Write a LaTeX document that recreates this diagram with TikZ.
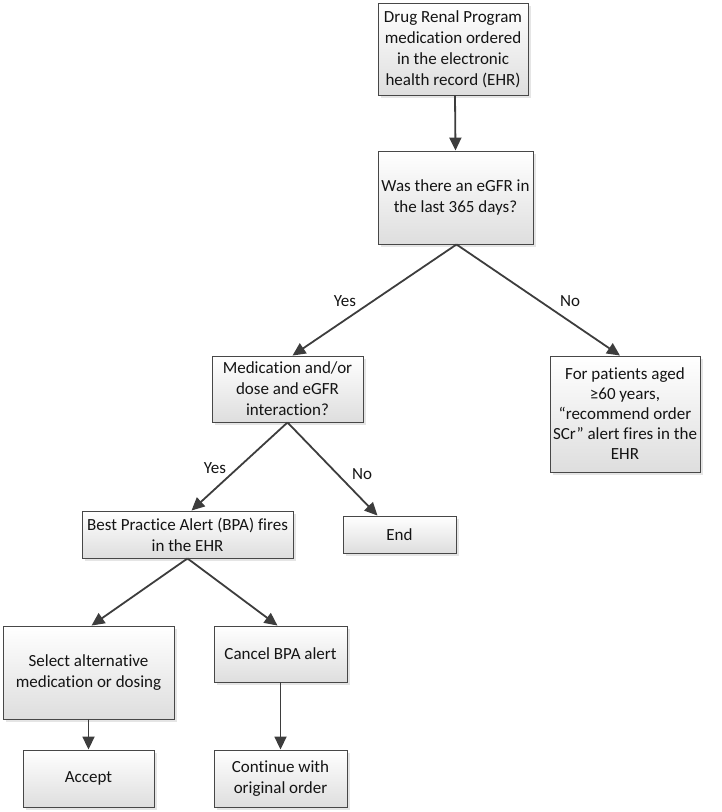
\documentclass[tikz,border=0pt]{standalone}
\usepackage{fontspec}
\setmainfont[Ligatures=NoCommon]{Carlito}
\usetikzlibrary{arrows.meta,shadows}
\begin{document}
\begin{tikzpicture}[x=1pt,y=-1pt,
  box/.style={draw=black!72, line width=0.9pt, top color=white, bottom color=black!13,
    drop shadow={shadow xshift=2.5pt, shadow yshift=-2.5pt, fill=black!20},
    align=center, inner sep=2pt, font=\fontsize{17}{21}\selectfont, text=black!92},
  arr/.style={draw=black!76, line width=1.8pt, -{Triangle[length=13pt,width=12pt]}},
  lbl/.style={font=\fontsize{17}{20}\selectfont, text=black!92}]
\useasboundingbox (0,0) rectangle (722,812);
\node[box, minimum width=150pt, minimum height=92pt] (b1) at (453,49) {Drug Renal Program\\medication ordered\\in the electronic\\health record (EHR)};
\node[box, minimum width=155pt, minimum height=93pt] (b2) at (455.5,197.5) {Was there an eGFR in\\the last 365 days?};
\node[box, minimum width=151pt, minimum height=66pt] (b3) at (287.5,389) {Medication and/or\\dose and eGFR\\interaction?};
\node[box, minimum width=150pt, minimum height=116pt, font=\fontsize{17}{20}\selectfont] (b4) at (625,414) {For patients aged\\≥60 years,\\“recommend order\\SCr” alert fires in the\\EHR};
\node[box, minimum width=211pt, minimum height=47pt] (b5) at (187.5,534.5) {Best Practice Alert (BPA) fires\\in the EHR};
\node[box, minimum width=113pt, minimum height=37pt] (bend) at (399.5,534.5) {End};
\node[box, minimum width=171pt, minimum height=93pt] (bsel) at (88.5,672.5) {Select alternative\\medication or dosing};
\node[box, minimum width=133pt, minimum height=56pt] (bcan) at (280.5,654) {Cancel BPA alert};
\node[box, minimum width=131pt, minimum height=57pt] (bacc) at (88.5,778.5) {Accept};
\node[box, minimum width=133pt, minimum height=57pt] (bcon) at (280.5,778.5) {Continue with\\original order};
\draw[arr] ([xshift=2pt]b1.south) -- (b2.north);
\draw[arr] ([xshift=1pt]b2.south) -- ([xshift=5pt]b3.north);
\draw[arr] ([xshift=1pt]b2.south) -- ([xshift=-5pt]b4.north);
\draw[arr] (b3.south) -- ([xshift=4pt]b5.north);
\draw[arr] (b3.south) -- ([xshift=-22pt]bend.north);
\draw[arr] (b5.south) -- ([xshift=3pt]bsel.north);
\draw[arr] (b5.south) -- ([xshift=-3pt]bcan.north);
\draw[arr] (bsel.south) -- (bacc.north);
\draw[arr] (bcan.south) -- (bcon.north);
\node[lbl] (ly1) at (345,301) {Yes};
\node[lbl] (ln1) at (570,301) {No};
\node[lbl] (ly2) at (215,468) {Yes};
\node[lbl] (ln2) at (362,474) {No};
\end{tikzpicture}
\end{document}
